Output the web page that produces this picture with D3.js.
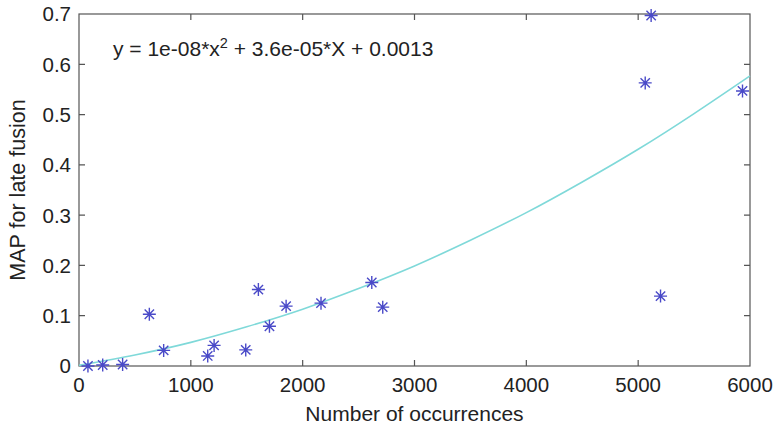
<!DOCTYPE html>
<html>
<head>
  <meta charset="utf-8">
  <script src="https://d3js.org/d3.v7.min.js"></script>
  <style>
    body { margin: 0; background: #fff; }
    text { font-family: "Liberation Sans", Arial, sans-serif; fill: #222; }
  </style>
</head>
<body>
  <script>
    // observed points
    const occurrences = [80, 212, 390, 629, 757, 1151, 1208, 1491, 1604, 1703, 1852, 2164, 2618, 2716, 5063, 5116, 5200, 5933];
    const mapValues = [0.0, 0.002, 0.003, 0.103, 0.031, 0.020, 0.041, 0.032, 0.152, 0.079, 0.119, 0.125, 0.166, 0.117, 0.563, 0.697, 0.139, 0.547];

    // fitted curve
    const fitX = [0, 500, 1000, 1500, 2000, 2500, 3000, 3500, 4000, 4500, 5000, 5500, 6000];
    const fitY = [0.0013, 0.022, 0.047, 0.078, 0.113, 0.154, 0.199, 0.250, 0.305, 0.366, 0.431, 0.502, 0.577];

    const xTicks = [0, 1000, 2000, 3000, 4000, 5000, 6000];
    const yTicks = [0, 0.1, 0.2, 0.3, 0.4, 0.5, 0.6, 0.7];

    const width = 774, height = 428;
    const margin = {top: 14, right: 24, bottom: 62, left: 79};
    const innerW = width - margin.left - margin.right;
    const innerH = height - margin.top - margin.bottom;

    const svg = d3.select("body").append("svg")
      .attr("width", width)
      .attr("height", height);

    const g = svg.append("g")
      .attr("transform", "translate(" + margin.left + "," + margin.top + ")");

    const x = d3.scaleLinear().domain([0, 6000]).range([0, innerW]);
    const y = d3.scaleLinear().domain([0, 0.7]).range([innerH, 0]);

    const tickLen = 6;
    const axisColor = "#555";

    // box
    g.append("rect")
      .attr("width", innerW).attr("height", innerH)
      .attr("fill", "none").attr("stroke", axisColor).attr("stroke-width", 1.2);

    // ticks on all four sides, pointing in
    g.selectAll(".xt").data(xTicks.slice(1, -1)).enter().append("path")
      .attr("d", d => "M" + x(d) + "," + innerH + "v" + (-tickLen) + "M" + x(d) + ",0v" + tickLen)
      .attr("stroke", axisColor).attr("stroke-width", 1.2);

    g.selectAll(".yt").data(yTicks.slice(1, -1)).enter().append("path")
      .attr("d", d => "M0," + y(d) + "h" + tickLen + "M" + innerW + "," + y(d) + "h" + (-tickLen))
      .attr("stroke", axisColor).attr("stroke-width", 1.2);

    g.selectAll(".xl").data(xTicks).enter().append("text")
      .attr("x", d => x(d)).attr("y", innerH + 26)
      .attr("text-anchor", "middle")
      .style("font-size", "20.5px")
      .text(d => d);

    g.selectAll(".yl").data(yTicks).enter().append("text")
      .attr("x", -8).attr("y", d => y(d)).attr("dy", "0.36em")
      .attr("text-anchor", "end")
      .style("font-size", "20.5px")
      .text(d => d);

    // axis titles
    svg.append("text")
      .attr("x", margin.left + innerW / 2).attr("y", 421)
      .attr("text-anchor", "middle")
      .style("font-size", "21px")
      .text("Number of occurrences");

    svg.append("text")
      .attr("transform", "translate(25," + (margin.top + innerH / 2) + ") rotate(-90)")
      .attr("text-anchor", "middle")
      .style("font-size", "21.5px")
      .text("MAP for late fusion");

    // fit curve
    const line = d3.line()
      .x((d, i) => x(fitX[i]))
      .y(d => y(d))
      .curve(d3.curveNatural);

    g.append("path")
      .datum(fitY)
      .attr("d", line)
      .attr("fill", "none")
      .attr("stroke", "#7fd9d9")
      .attr("stroke-width", 1.6);

    // asterisk markers
    const s = 6.5, d45 = s * 0.72;
    const star = "M" + (-s) + ",0H" + s + "M0," + (-s) + "V" + s +
      "M" + (-d45) + "," + (-d45) + "L" + d45 + "," + d45 +
      "M" + (-d45) + "," + d45 + "L" + d45 + "," + (-d45);

    g.selectAll(".pt").data(occurrences).enter().append("path")
      .attr("transform", (d, i) => "translate(" + x(d) + "," + y(mapValues[i]) + ")")
      .attr("d", star)
      .attr("fill", "none")
      .attr("stroke", "#4a4ac8")
      .attr("stroke-width", 1.4);

    // equation
    const eq = svg.append("text")
      .attr("x", 113).attr("y", 56)
      .style("font-size", "21px");
    eq.append("tspan").text("y = 1e-08*x");
    eq.append("tspan").attr("dy", -8).style("font-size", "14.5px").text("2");
    eq.append("tspan").attr("dy", 8).text(" + 3.6e-05*X + 0.0013");
  </script>
</body>
</html>
